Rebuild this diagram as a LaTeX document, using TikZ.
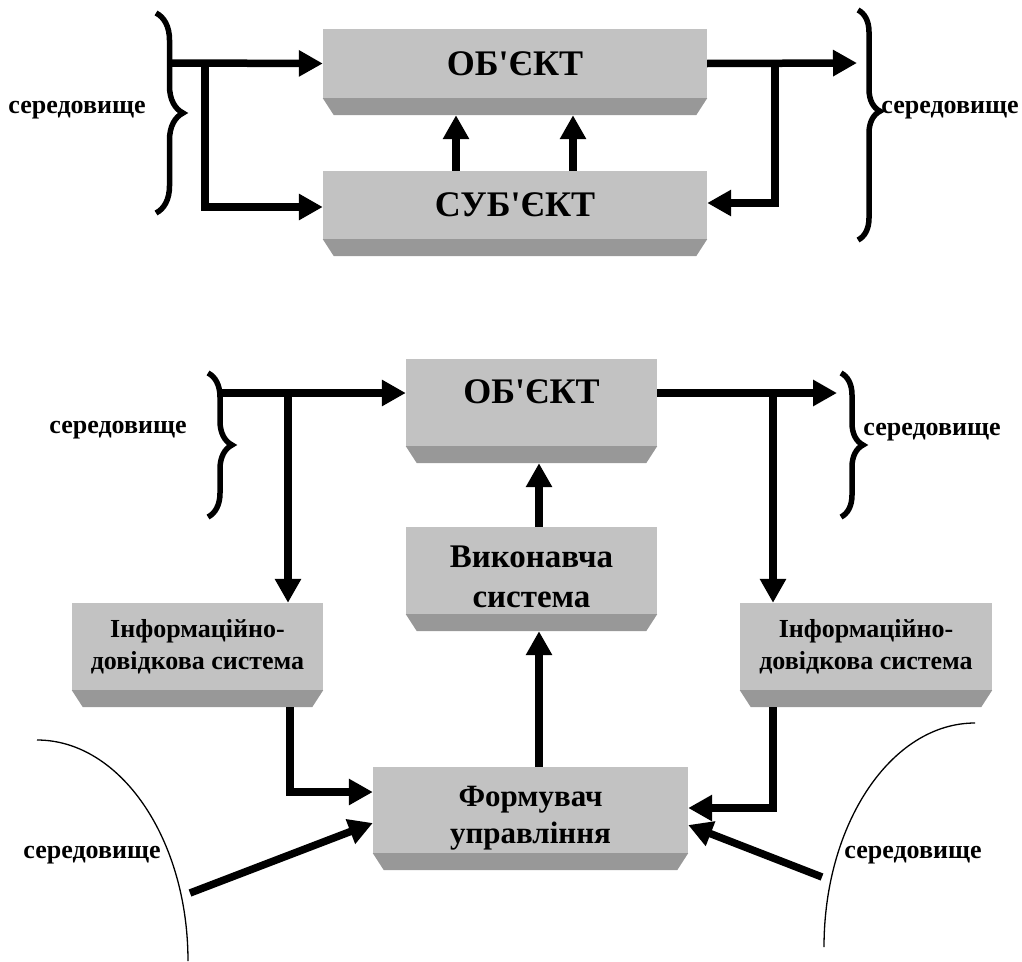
\documentclass[tikz,border=0pt]{standalone}
\usepackage{fontspec}
\setmainfont{Liberation Serif}
\usetikzlibrary{arrows.meta,calc,decorations.pathreplacing}
\definecolor{facegray}{RGB}{194,194,194}
\definecolor{bevelgray}{RGB}{152,152,152}
\def\bevel(#1){\fill[bevelgray] (#1.south west) -- (#1.south east) -- ++(-11,17) -- ($(#1.south west)+(11,17)$) -- cycle;
	\coordinate (#1-b) at ($(#1.south)+(0,17)$);}
\tikzset{
	blok/.style={fill=facegray, inner sep=0pt, align=center},
	arr/.style={line width=7.5pt, line join=miter, -{Triangle[width=25pt,length=24pt]}},
	brc/.style={line width=5.5pt, decorate, decoration={brace, amplitude=#1}},
	env/.style={font=\fontsize{26}{30}\selectfont\bfseries}
}

\begin{document}
\begin{tikzpicture}[x=1pt, y=-1pt]
			%%%%% START %%%%%
			\useasboundingbox (0,0) rectangle (1022,961);
			
			% upper scheme
			\node[blok, minimum width=384pt, minimum height=69pt, font=\fontsize{36}{40}\selectfont\bfseries] (obj1) at (515,63.5) {ОБ\textquotesingle ЄКТ};
			\node[blok, minimum width=384pt, minimum height=68pt, font=\fontsize{36}{40}\selectfont\bfseries] (sub1) at (515,205) {СУБ\textquotesingle ЄКТ};
			\bevel(obj1)
			\bevel(sub1)
			
			\draw[brc=27pt] (156,13) -- (156,213);
			\draw[brc=22pt, decoration={aspect=0.44}] (858,10) -- (858,240);
			\node[env] (env1) at (77,110) {середовище};
			\node[env] (env2) at (950,110) {середовище};
			
			\coordinate (lb1) at (172,63);
			\coordinate (j1) at (205,63);
			\coordinate (rb1) at (857,63);
			\coordinate (j2) at (775,63);
			\draw[arr] (lb1) -- (obj1.west);
			\draw[arr] (j1) |- ([yshift=-2pt]sub1.west);
			\draw[arr] (obj1.east) -- (rb1);
			\draw[arr] (j2) |- ([yshift=2pt]sub1.east);
			\draw[arr] ([xshift=-59pt]sub1.north) -- ([xshift=-59pt]obj1-b);
			\draw[arr] ([xshift=58pt]sub1.north) -- ([xshift=58pt]obj1-b);
			
			% lower scheme
			\node[blok, minimum width=251pt, minimum height=87pt, text depth=21pt, font=\fontsize{36}{40}\selectfont\bfseries] (obj2) at (531.5,402.5) {ОБ\textquotesingle ЄКТ};
			\node[blok, minimum width=251pt, minimum height=87pt, font=\fontsize{33}{40}\selectfont\bfseries] (vyk) at (531.5,570.5) {\rule{0pt}{35pt}Виконавча\\система};
			\node[blok, minimum width=251pt, minimum height=87pt, font=\fontsize{26}{32}\selectfont\bfseries] (infoL) at (197.5,646.5) {Інформаційно-\\довідкова система};
			\node[blok, minimum width=252pt, minimum height=87pt, font=\fontsize{26}{32}\selectfont\bfseries] (infoR) at (866,646.5) {Інформаційно-\\довідкова система};
			\node[blok, minimum width=315pt, minimum height=86pt, font=\fontsize{31}{37}\selectfont\bfseries] (form) at (530.5,810) {\rule{0pt}{36pt}Формувач\\управління};
			\bevel(obj2)
			\bevel(vyk)
			\bevel(infoL)
			\bevel(infoR)
			\bevel(form)
			
			\draw[brc=24pt] (208,373) -- (208,517);
			\draw[brc=22pt] (841,373) -- (841,517);
			\node[env] (env3) at (118,430) {середовище};
			\node[env] (env4) at (932,432) {середовище};
			
			\draw[line width=1.3pt] (37,740) arc[start angle=270, end angle=360, x radius=151, y radius=221];
			\draw[line width=1.3pt] (975,723) arc[start angle=270, end angle=180, x radius=151, y radius=224];
			\node[env] (env5) at (92,855) {середовище};
			\node[env] (env6) at (913,855) {середовище};
			
			\coordinate (lb2) at (222,393);
			\coordinate (j3) at (288,393);
			\coordinate (rb2) at (837,393);
			\coordinate (j4) at (773,393);
			\coordinate (le) at (190,893);
			\coordinate (re) at (822,877);
			\draw[arr] (lb2) -- (lb2 -| obj2.west);
			\draw[arr] (j3) -- (j3 |- infoL.north);
			\draw[arr] (rb2 -| obj2.east) -- (rb2);
			\draw[arr] (j4) -- (j4 |- infoR.north);
			\draw[arr] ([xshift=7.5pt]vyk.north) -- ([xshift=7.5pt]obj2-b);
			\draw[arr] ([xshift=8.5pt]form.north) -- ([xshift=7.5pt]vyk-b);
			\draw[arr] ([xshift=2pt]j3 |- infoL-b) |- ([yshift=18pt]form.west);
			\draw[arr] (j4 |- infoR-b) |- ([yshift=2pt]form.east);
			\draw[arr] (le) -- ([yshift=-13pt]form.west);
			\draw[arr] (re) -- ([yshift=-15pt]form.east);
			
			%%%%% END %%%%%
\end{tikzpicture}
\end{document}
